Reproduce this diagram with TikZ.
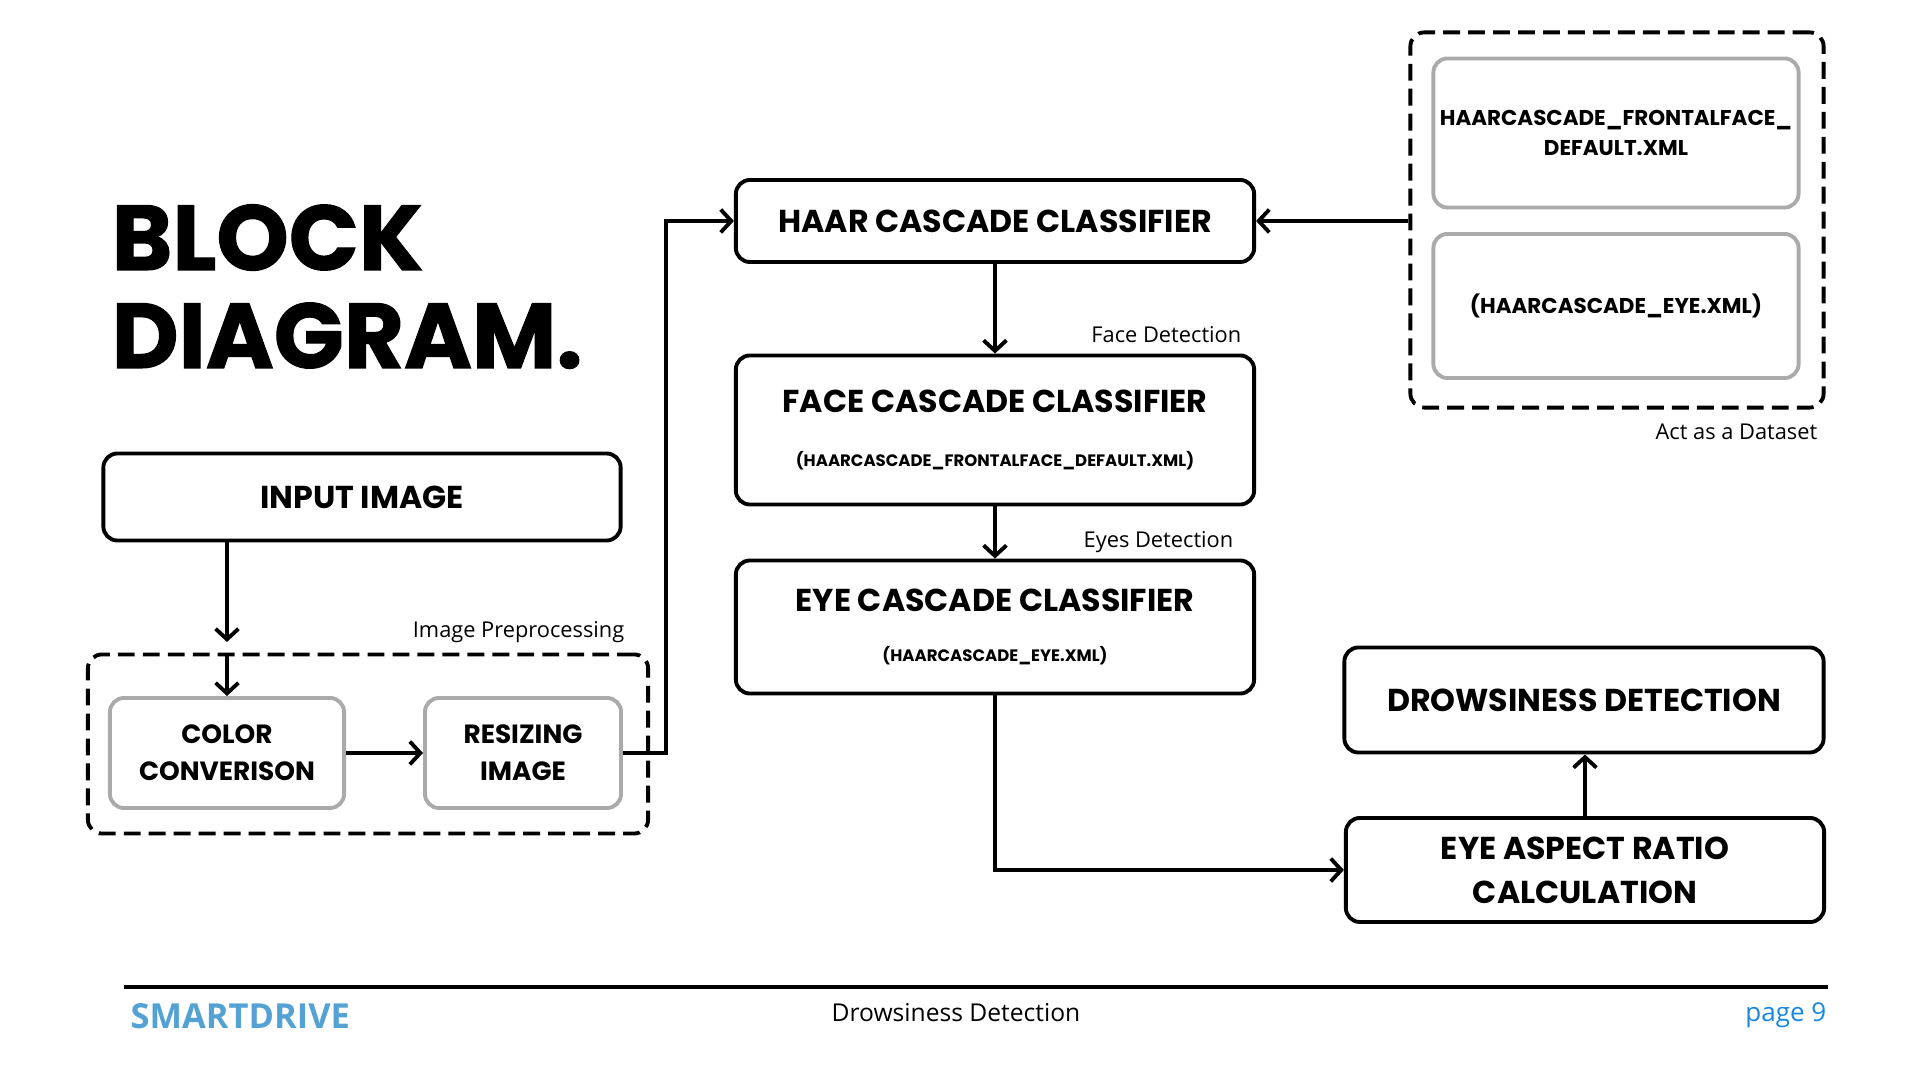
\documentclass[tikz,border=0pt]{standalone}
\usepackage{fontspec}
\usetikzlibrary{arrows.meta}
\newfontfamily\popp{Poppins}
\newfontfamily\poppheavy{Poppins}[FakeBold=1.2]
\newfontfamily\osans{Open Sans}
\definecolor{boxgray}{RGB}{170,170,170}
\definecolor{brandblue}{RGB}{84,162,212}
\definecolor{pageblue}{RGB}{25,135,225}
\newcommand{\subtxt}[1]{{\fontsize{4.7}{6}\selectfont #1}}

\begin{document}
\begin{tikzpicture}[x=0.01cm, y=-0.01cm]
  \tikzset{blk/.style={draw, line width=1.1pt, rounded corners=4pt, inner sep=0pt, align=center,
                       font=\popp\bfseries\fontsize{9}{12.5}\selectfont},
           lite/.style={blk, draw=boxgray, font=\popp\bfseries\fontsize{7.5}{10.5}\selectfont},
           grp/.style={draw, line width=1.1pt, rounded corners=4pt, dash pattern=on 4.8pt off 2.3pt, inner sep=0pt},
           tag/.style={font=\osans\fontsize{6.2}{7.5}\selectfont, anchor=east, inner sep=0pt},
           arr/.style={-{Straight Barb[length=3pt,width=6.5pt]}, line width=1.1pt}}
  \useasboundingbox (0,0) rectangle (1920,1080);

  % title
  \node[anchor=base west, inner sep=0pt, font=\poppheavy\bfseries\fontsize{26.2}{30}\selectfont] (ttl1) at (111,270) {BLOCK};
  \node[anchor=base west, inner sep=0pt, font=\poppheavy\bfseries\fontsize{26.2}{30}\selectfont] (ttl2) at (111,368) {DIAGRAM.};

  % left column
  \node[blk, minimum width=5.17cm, minimum height=0.87cm] (input) at (362,497) {INPUT IMAGE};
  \node[grp, minimum width=5.60cm, minimum height=1.79cm] (prep) at (368,744) {};
  \node[lite, minimum width=2.34cm, minimum height=1.10cm] (color) at (227,753) {COLOR\\CONVERISON};
  \node[lite, minimum width=1.96cm, minimum height=1.10cm] (resize) at (523,753) {RESIZING\\IMAGE};
  \node[tag] (preptag) at (625,632) {Image Preprocessing};

  % middle column
  \node[blk, minimum width=5.18cm, minimum height=0.82cm] (haar) at (995,221) {HAAR CASCADE CLASSIFIER};
  \node[blk, minimum width=5.18cm, minimum height=1.49cm] (face) at (995,430)
    {FACE CASCADE CLASSIFIER\\[3pt]\subtxt{(HAARCASCADE\_FRONTALFACE\_DEFAULT.XML)}};
  \node[blk, minimum width=5.18cm, minimum height=1.33cm] (eye) at (995,627)
    {EYE CASCADE CLASSIFIER\\[1.5pt]\subtxt{(HAARCASCADE\_EYE.XML)}};
  \node[tag] (facetag) at (1242,335) {Face Detection};
  \node[tag] (eyetag) at (1234,542) {Eyes Detection};

  % right column
  \node[grp, minimum width=4.13cm, minimum height=3.75cm] (data) at (1617,220) {};
  \node[lite, minimum width=3.65cm, minimum height=1.49cm, font=\popp\bfseries\fontsize{6.1}{8.6}\selectfont] (frontal) at (1616,133)
    {HAARCASCADE\_FRONTALFACE\_\\DEFAULT.XML};
  \node[lite, minimum width=3.65cm, minimum height=1.44cm, font=\popp\bfseries\fontsize{6.1}{8.6}\selectfont] (eyexml) at (1616,306)
    {(HAARCASCADE\_EYE.XML)};
  \node[tag] (datatag) at (1818,432) {Act as a Dataset};
  \node[blk, minimum width=4.79cm, minimum height=1.05cm] (drowsy) at (1584,700) {DROWSINESS DETECTION};
  \node[blk, minimum width=4.78cm, minimum height=1.04cm] (ear) at (1585,870) {EYE ASPECT RATIO\\CALCULATION};

  % connectors
  \draw[arr, shorten >=3pt] (input.south -| color.north) -- (prep.north -| color.north);
  \draw[arr] (prep.north -| color.north) -- (color.north);
  \draw[arr] (color.east) -- (resize.east -| resize.west);
  \draw[arr] (resize.east) -- ++(43,0) |- (haar.west);
  \draw[arr] (haar.south) -- (face.north);
  \draw[arr] (face.south) -- (eye.north);
  \draw[arr] (eye.south) |- (ear.west);
  \draw[arr] (ear.north) -- (ear.north |- drowsy.south);
  \draw[arr] (data.west |- haar.east) -- (haar.east);

  % footer
  \coordinate (fl) at (124,987);
  \coordinate (fr) at (1828,987);
  \draw[line width=0.9pt] (fl) -- (fr);
  \node[anchor=base west, inner sep=0pt, text=brandblue, font=\osans\bfseries\fontsize{9.8}{11}\selectfont] (brand) at (130,1029) {SMARTDRIVE};
  \node[anchor=base, inner sep=0pt, font=\osans\fontsize{7}{9}\selectfont] (foot) at (956,1022) {Drowsiness Detection};
  \node[anchor=base east, inner sep=0pt, text=pageblue, font=\osans\fontsize{7.4}{9}\selectfont] (page) at (1827,1022) {page 9};
\end{tikzpicture}
\end{document}
